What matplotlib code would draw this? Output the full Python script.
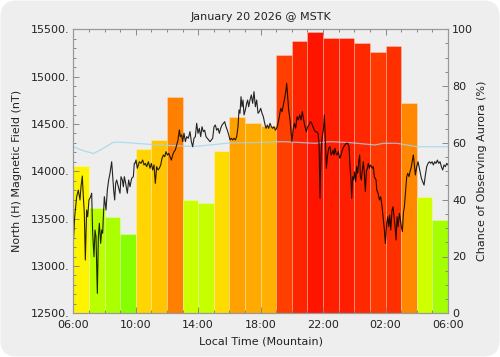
import matplotlib
matplotlib.use("Agg")
import matplotlib.pyplot as plt
from matplotlib.patches import FancyBboxPatch
from matplotlib.colors import LinearSegmentedColormap
from matplotlib.ticker import MultipleLocator, FixedLocator, FuncFormatter
from matplotlib.transforms import IdentityTransform

# ---------------- data ----------------
title = "January 20 2026 @ MSTK"
xlabel = "Local Time (Mountain)"
ylabel_left = "North (H) Magnetic Field (nT)"
ylabel_right = "Chance of Observing Aurora (%)"

# hourly aurora chance, hours since 06:00 local
hour_starts = list(range(24))
aurora_pct = [52, 37, 34, 28, 58, 61, 76, 40, 39, 57, 69, 67,
              66, 91, 96, 99, 97, 97, 95, 92, 94, 74, 41, 33]

tick_hours = [0, 4, 8, 12, 16, 20, 24]
tick_labels = ["06:00", "10:00", "14:00", "18:00", "22:00", "02:00", "06:00"]

# magnetic field trace (hours since 06:00, nT)
field_t = [
    0.00, 0.088, 0.216, 0.322, 0.429, 0.493, 0.578, 0.642, 0.707, 0.770, 0.856, 0.920, 1.005, 1.112,
    1.176, 1.241, 1.326, 1.390, 1.454, 1.540, 1.604, 1.668, 1.753, 1.817, 1.881, 1.924, 1.988, 2.052,
    2.095, 2.180, 2.266, 2.351, 2.458, 2.522, 2.586, 2.650, 2.714, 2.778, 2.885, 2.991, 3.055, 3.141,
    3.205, 3.269, 3.354, 3.461, 3.546, 3.632, 3.739, 3.845, 3.909,
    3.953, 4.017, 4.102, 4.230, 4.337, 4.444, 4.529, 4.614, 4.700, 4.807, 4.913, 4.999, 5.084, 5.170,
    5.255, 5.340, 5.426, 5.511, 5.597, 5.682, 5.767, 5.853, 5.938, 6.024, 6.109, 6.194, 6.280, 6.365,
    6.450, 6.536, 6.621, 6.707, 6.792, 6.856, 6.941, 7.005, 7.091, 7.176, 7.262, 7.368, 7.475, 7.561,
    7.646, 7.731,
    7.817, 7.903, 7.988, 8.073, 8.159, 8.244, 8.330, 8.415, 8.500, 8.586, 8.671, 8.757, 8.842, 8.927,
    9.013, 9.098, 9.184, 9.269, 9.354, 9.440, 9.525, 9.610, 9.696, 9.781, 9.867, 9.952, 10.037, 10.123,
    10.208, 10.294, 10.379, 10.464, 10.550, 10.614, 10.678, 10.742, 10.806, 10.870, 10.934, 11.019,
    11.104, 11.168, 11.232, 11.318, 11.403, 11.489, 11.574,
    11.661, 11.746, 11.831, 11.917, 12.002, 12.088, 12.173, 12.258, 12.344, 12.429, 12.514, 12.600,
    12.685, 12.771, 12.856, 12.941, 13.027, 13.112, 13.198, 13.283, 13.368, 13.454, 13.539, 13.625,
    13.667, 13.731, 13.795, 13.881, 13.945, 14.009, 14.073, 14.158, 14.244, 14.329, 14.414, 14.500,
    14.585, 14.671, 14.756, 14.841, 14.927, 15.012, 15.098, 15.183, 15.268, 15.354, 15.439,
    15.505, 15.590, 15.676, 15.740, 15.804, 15.868, 15.932, 16.017, 16.081, 16.145, 16.209, 16.273,
    16.358, 16.444, 16.508, 16.572, 16.636, 16.700, 16.764, 16.828, 16.892, 16.977, 17.062, 17.148,
    17.233, 17.319, 17.404, 17.489, 17.575, 17.660, 17.724, 17.788, 17.831, 17.895, 17.959, 18.023,
    18.087, 18.151, 18.215, 18.279, 18.343, 18.386, 18.450, 18.514, 18.578, 18.642, 18.706, 18.770,
    18.834, 18.898, 18.962, 19.026, 19.090, 19.154, 19.218, 19.282,
    19.392, 19.435, 19.520, 19.606, 19.691, 19.776, 19.862, 19.926, 19.990, 20.075, 20.139, 20.203,
    20.267, 20.331, 20.417, 20.481, 20.545, 20.609, 20.673, 20.737, 20.801, 20.886, 20.950, 21.014,
    21.078, 21.142, 21.206, 21.270, 21.356, 21.420, 21.505, 21.569, 21.654, 21.740, 21.782, 21.846,
    21.910, 21.996, 22.081, 22.145, 22.209, 22.295, 22.380, 22.466, 22.551, 22.636, 22.722, 22.807,
    22.893, 22.978, 23.063, 23.149, 23.234, 23.320, 23.405, 23.490, 23.576, 23.661, 23.747, 23.832,
    23.917, 24.000,
]
field_nT = [
    13239, 13520, 13732, 13802, 13697, 13837, 13950, 13732, 13556, 13063, 13591, 13520, 13697, 13732,
    13768, 13345, 13098, 13380, 13309, 12711, 13309, 13451, 13239, 13380, 13345, 13520, 13732, 13644,
    13591, 13802, 13908, 13979, 14101, 13943, 13802, 13697, 13873, 13908, 13837, 13768, 13943, 13908,
    13837, 13943, 13873, 13768, 13908, 13837, 13926, 13943, 14085,
    14084, 14119, 14032, 14101, 14084, 14119, 14067, 14084, 14049, 14101, 14032, 14084, 14014, 14067,
    13873, 14049, 14014, 14032, 14067, 14137, 14172, 14154, 14207, 14172, 14190, 14154, 14119, 14172,
    14207, 14225, 14278, 14331, 14437, 14366, 14384, 14313, 14402, 14313, 14366, 14349, 14419, 14313,
    14260, 14349,
    14366, 14507, 14401, 14454, 14366, 14471, 14418, 14434, 14366, 14349, 14331, 14313, 14331, 14349,
    14471, 14489, 14434, 14454, 14401, 14454, 14489, 14507, 14524, 14471, 14434, 14387, 14331, 14349,
    14331, 14349, 14331, 14366, 14471, 14648, 14613, 14788, 14682, 14753, 14595, 14648,
    14718, 14753, 14682, 14753, 14806, 14718, 14841,
    14682, 14753, 14613, 14630, 14665, 14613, 14577, 14507, 14454, 14489, 14454, 14507,
    14471, 14454, 14471, 14434, 14454, 14507, 14577, 14665, 14630, 14700, 14771, 14859,
    14930, 14788, 14648, 14542, 14418, 14313, 14434, 14507, 14454, 14577, 14542, 14595,
    14542, 14630, 14542, 14471, 14418, 14471, 14489, 14524, 14507, 14471, 14434,
    14418, 14418, 14401, 14296, 13715, 14190, 14349, 14437, 14595, 14331, 14032, 14154,
    14243, 14260, 14172, 14190, 14225, 14172, 14243, 14190, 14172, 14207, 14137, 14172,
    14225, 14260, 14278, 14296, 14296, 14260, 14049, 13908, 13715, 13943, 13908, 13996,
    13890, 14049, 13979, 14101, 14172, 13943, 13908, 14014, 14101, 13979, 13785, 13996,
    14032, 14084, 14032, 14067, 14049, 14032, 14049, 13943,
    13908, 13803, 13768, 13697, 13732, 13626, 13486, 13380, 13239, 13451, 13520, 13415,
    13538, 13380, 13591, 13626, 13520, 13415, 13274, 13520, 13415, 13556, 13486, 13415,
    13362, 13556, 13626, 13768, 13943, 13979, 13943, 13996, 14049, 14137, 14172, 14067,
    13961, 14049, 14101, 14049, 13996, 13926, 13890, 13854, 13961, 14049, 14084, 14101,
    14084, 14101, 14067, 14101, 14084, 14119, 14084, 14101, 14049, 14014, 14067, 14049,
    14084, 14067,
]

# quiet-day baseline (hours since 06:00, nT)
base_t = [0, 0.64, 1.3, 1.92, 2.56, 3.2, 3.95, 5.77, 7.69, 8.76, 10.04, 11.64,
          13.45, 15.48, 16.44, 17.72, 19.32, 19.86, 20.72, 21.36, 22.0, 24.0]
base_nT = [14260, 14218, 14188, 14243, 14306, 14306, 14296, 14275, 14262, 14278, 14300, 14303,
           14313, 14296, 14313, 14303, 14278, 14296, 14296, 14278, 14260, 14260]

# ---------------- figure ----------------
W, H = 500, 357
fig = plt.figure(figsize=(W / 100, H / 100), dpi=100)
fig.patch.set_facecolor("white")
bg = FancyBboxPatch((0.5, 0.5), W - 1, H - 1, boxstyle="round,pad=0,rounding_size=16",
                    transform=IdentityTransform(), facecolor="#eeeeee", edgecolor="none", zorder=-10)
fig.add_artist(bg)

left, right, bottom, top = 73.3 / W, 448 / W, 1 - 313.3 / H, 1 - 29.3 / H
ax = fig.add_axes([left, bottom, right - left, top - bottom])
ax2 = ax.twinx()
ax2.set_zorder(0)
ax.set_zorder(1)
ax.patch.set_visible(False)
ax2.patch.set_visible(True)
ax2.patch.set_facecolor("#eeeeee")

cmap = LinearSegmentedColormap.from_list("aur", [
    (0.00, "#00ff00"), (0.28, "#88ff00"), (0.40, "#ccff00"), (0.50, "#ffff00"),
    (0.60, "#ffcc00"), (0.75, "#ff8400"), (0.90, "#ff4400"), (1.00, "#ff1000")])
colors = [cmap(p / 100) for p in aurora_pct]
ax2.bar(hour_starts, aurora_pct, width=1.0, align="edge", color=colors,
        edgecolor=(1, 1, 1, 0.3), linewidth=0.6)
ax2.set_ylim(0, 100)

ax.plot(base_t, base_nT, color="#9fd6ee", lw=0.9, alpha=0.8)
ax.plot(field_t, field_nT, color="black", lw=0.8, alpha=0.85)
ax.set_xlim(0, 24)
ax.set_ylim(12500, 15500)

ax.xaxis.set_major_locator(FixedLocator(tick_hours))
ax.set_xticklabels(tick_labels)
ax.xaxis.set_minor_locator(MultipleLocator(1))
ax.yaxis.set_major_locator(MultipleLocator(500))
ax.yaxis.set_minor_locator(MultipleLocator(100))
ax.yaxis.set_major_formatter(FuncFormatter(lambda v, p: f"{v:.0f}."))
ax2.yaxis.set_major_locator(MultipleLocator(20))
ax2.yaxis.set_minor_locator(MultipleLocator(5))

tc, lc = "#888888", "#222222"
ax.tick_params(axis="x", which="both", direction="in", top=True, bottom=True,
               color=tc, labelcolor=lc, labelsize=8, pad=5)
ax.tick_params(axis="y", which="both", direction="in", left=True, right=False,
               color=tc, labelcolor=lc, labelsize=8, pad=3)
ax2.tick_params(axis="y", which="both", direction="in", right=True, left=False,
                color=tc, labelcolor=lc, labelsize=8, pad=3)
for a in (ax, ax2):
    a.tick_params(which="major", length=4.5, width=0.7)
    a.tick_params(which="minor", length=2.5, width=0.7)
    for s in a.spines.values():
        s.set_color("#999999")
        s.set_linewidth(0.8)

fig.text(260.7 / W, 1 - 17.5 / H, title, ha="center", va="center", fontsize=8, color=lc)
fig.text(260.7 / W, 1 - 341 / H, xlabel, ha="center", va="center", fontsize=8, color=lc)
fig.text(16.7 / W, 1 - 171 / H, ylabel_left, ha="center", va="center", rotation=90, fontsize=8, color=lc)
fig.text(481.7 / W, 1 - 171 / H, ylabel_right, ha="center", va="center", rotation=90, fontsize=8, color=lc)

fig.savefig("out.png", dpi=100, facecolor=fig.get_facecolor())
